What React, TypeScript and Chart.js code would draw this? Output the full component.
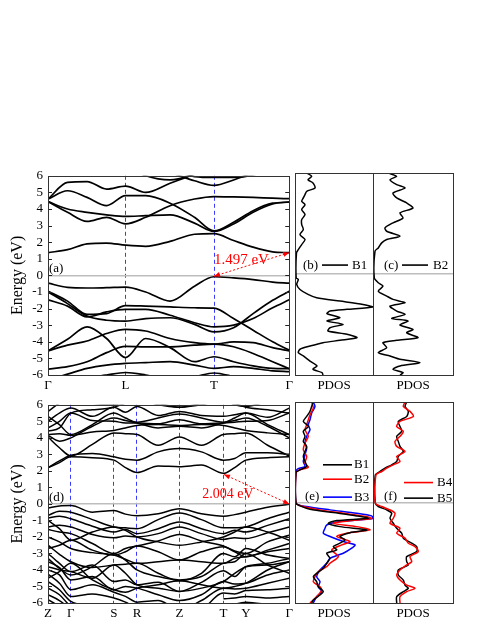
import React, { useEffect, useRef } from 'react';
import { Chart, registerables } from 'chart.js';
Chart.register(...registerables);

const SERIF = '"Liberation Serif", "DejaVu Serif", serif';

// ---------- energy axis ----------
const energyTicks = [-6, -5, -4, -3, -2, -1, 0, 1, 2, 3, 4, 5, 6];

// ---------- panel (a): bands along Γ-L-T-Γ ----------
const kGridA = [0, 20, 40, 60, 79.4, 100, 125, 150, 170, 190, 210, 230, 247];
const hsPosA = [0, 79.4, 170, 247];
const hsLabA = ['Γ', 'L', 'T', 'Γ'];
const condA = [
  [1.37, 1.55, 1.9, 1.95, 1.82, 1.75, 2.05, 2.48, 2.52, 2.1, 1.7, 1.42, 1.37],
  [4.45, 3.8, 3.25, 3.5, 3.1, 3.5, 4.2, 4.6, 4.75, 4.73, 4.7, 4.65, 4.62],
  [4.45, 4.0, 3.8, 3.65, 3.55, 3.6, 3.65, 3.15, 2.65, 3.1, 3.8, 4.3, 4.42],
  [4.6, 5.1, 4.7, 4.2, 4.8, 4.8, 4.35, 3.5, 2.68, 3.2, 3.9, 4.35, 4.42],
  [4.6, 5.6, 5.65, 5.2, 5.38, 5.0, 5.55, 6.1, 6.6, null, null, null, null],
  [null, null, null, null, null, 6.6, 6.2, 5.7, 5.42, 5.75, 6.2, 6.6, null],
  [null, null, null, null, 6.6, 6.0, 5.75, 6.1, 6.6, null, null, null, null],
  [null, null, null, null, null, null, 6.4, 5.95, 5.9, 5.9, 6.05, 6.5, null],
];
const valA = [
  [-0.47, -0.72, -0.76, -0.74, -0.71, -1.0, -1.55, -0.65, -0.08, -0.15, -0.25, -0.4, -0.47],
  [-0.95, -1.55, -2.35, -2.3, -1.82, -1.85, -1.9, -1.95, -1.97, -2.6, -3.3, -4.0, -4.5],
  [-1.0, -1.7, -2.45, -2.7, -2.75, -2.6, -2.55, -2.95, -3.4, -3.15, -2.3, -1.5, -0.95],
  [-1.47, -1.85, -2.5, -2.2, -2.05, -2.05, -2.4, -2.85, -3.1, -3.0, -2.6, -1.95, -1.47],
  [-4.55, -3.85, -3.1, -3.8, -4.95, -3.8, -4.35, -5.2, -4.9, -5.2, -5.45, -5.6, -5.62],
  [-4.55, -4.2, -3.95, -3.5, -3.25, -3.35, -3.8, -4.05, -4.14, -4.0, -4.05, -4.35, -4.55],
  [-5.65, -5.5, -5.2, -4.65, -4.28, -4.3, -4.3, -4.2, -4.14, -4.3, -4.7, -5.2, -5.62],
  [-6.3, -5.95, -5.6, -5.4, -5.3, -5.25, -5.2, -5.4, -5.6, -5.5, -5.6, -5.75, -5.8],
  [null, -6.5, -6.2, -6.0, -5.85, -6.0, -6.3, -6.1, -5.88, -6.1, -6.4, null, null],
];

// ---------- panel (d): bands along Z-Γ-S-R-Z-T-Y-Γ ----------
const kGridD = [0, 11.7, 23.4, 45.4, 67.4, 79.2, 91, 112.7, 134.4, 156.9, 179.4, 190.9, 202.4, 224.6, 246.7];
const hsPosD = [0, 23.4, 67.4, 91, 134.4, 179.4, 202.4, 246.7];
const hsLabD = ['Z', 'Γ', 'S', 'R', 'Z', 'T', 'Y', 'Γ'];
const condD = [
  [2.2, 2.5, 2.85, 2.8, 2.65, 2.2, 1.9, 2.3, 2.25, 2.35, 1.85, 2.2, 2.65, 2.8, 2.85],
  [2.2, 2.6, 2.95, 3.05, 2.85, 2.7, 2.65, 3.15, 3.35, 3.15, 2.65, 2.75, 3.1, 3.1, 3.0],
  [4.05, 3.4, 2.9, 3.6, 4.3, 4.25, 4.2, 3.55, 4.05, 3.55, 4.2, 4.25, 4.3, 3.55, 2.9],
  [4.2, 4.25, 4.15, 4.35, 4.45, 4.6, 4.75, 4.8, 4.75, 4.8, 4.75, 4.6, 4.45, 4.3, 4.2],
  [4.6, 5.0, 5.5, 5.05, 5.0, 4.9, 4.9, 4.85, 5.1, 4.85, 4.9, 4.95, 5.0, 5.05, 5.5],
  [5.0, 5.5, 5.8, 5.3, 5.85, 5.55, 5.9, 5.35, 5.6, 5.35, 5.3, 5.4, 5.5, 5.25, 5.8],
  [5.6, 6.1, 6.4, 6.1, 6.0, 6.2, 6.4, 6.0, 5.85, 6.0, 6.3, 6.0, 5.9, 6.2, 6.4],
  [4.15, 3.8, 4.0, 4.7, 5.2, 5.05, 4.9, 4.6, 4.7, 4.6, 4.9, 5.05, 5.2, 4.7, 4.0],
  [4.4, 4.6, 5.5, 5.7, 5.85, 6.1, 6.3, 6.1, 5.85, 6.1, 6.3, 6.1, 5.85, 5.7, 5.5],
  [5.3, 4.8, 4.2, 4.8, 5.5, 5.2, 4.95, 5.2, 5.45, 5.2, 4.95, 5.2, 5.5, 4.8, 4.2],
];
const valD = [
  [-0.25, -0.12, -0.1, -0.5, -0.4, -0.62, -0.72, -0.6, -0.3, -0.6, -0.75, -0.65, -0.5, -0.2, -0.02],
  [-0.7, -0.45, -0.5, -0.95, -1.4, -1.45, -1.5, -0.95, -0.55, -0.95, -1.45, -1.45, -1.4, -0.9, -0.5],
  [-0.85, -0.75, -0.9, -1.35, -1.7, -1.55, -1.8, -1.5, -1.1, -1.5, -1.8, -1.6, -1.7, -1.3, -0.9],
  [-1.4, -1.3, -1.4, -1.85, -2.05, -1.95, -2.0, -1.8, -1.4, -1.8, -2.15, -2.05, -2.1, -1.75, -1.4],
  [-1.55, -1.7, -1.8, -2.4, -3.0, -2.7, -2.55, -2.25, -1.85, -2.25, -2.55, -2.85, -3.0, -2.3, -1.9],
  [-2.0, -2.3, -2.7, -2.95, -3.1, -3.35, -3.6, -3.5, -3.4, -3.5, -3.6, -3.3, -3.2, -2.9, -2.7],
  [-2.5, -3.05, -3.5, -3.85, -3.7, -3.65, -3.6, -4.2, -4.65, -4.2, -3.0, -3.2, -2.7, -3.1, -3.3],
  [-3.0, -3.6, -4.1, -3.7, -4.7, -4.6, -4.9, -4.75, -5.3, -4.75, -4.05, -4.4, -3.8, -3.7, -3.5],
  [-3.5, -3.85, -4.6, -4.4, -5.2, -5.0, -5.1, -5.5, -5.85, -5.5, -4.7, -4.85, -4.8, -4.3, -4.0],
  [-4.0, -4.3, -5.2, -4.9, -5.35, -5.6, -5.95, -5.85, -6.4, -5.85, -5.1, -5.15, -5.1, -4.8, -4.5],
  [-4.25, -4.8, -5.6, -5.45, -5.7, -5.95, -6.3, -6.5, null, -6.5, -5.4, -5.45, -5.25, -5.2, -5.1],
  [-4.7, -5.2, -5.9, -6.2, -6.5, null, null, null, null, null, -5.75, -5.7, -5.6, -5.7, -5.6],
  [-5.1, -5.5, -6.2, -6.5, null, null, null, null, null, null, -6.5, -6.1, -5.95, -6.1, -6.3],
  [-5.5, -5.85, -6.4, null, null, null, null, null, null, null, null, null, null, null, null],
  [-5.8, -6.2, null, null, null, null, null, null, null, null, null, null, null, null, null],
  [-3.8, -4.0, -4.1, -4.5, -3.7, -4.2, -4.9, -5.1, -5.3, -5.1, -4.7, -4.2, -3.8, -3.6, -3.3],
  [-1.0, -1.5, -2.2, -1.7, -1.4, -1.6, -2.0, -2.3, -2.5, -2.3, -2.0, -1.7, -1.4, -1.7, -2.2],
  [-2.7, -2.5, -2.2, -2.8, -3.1, -2.9, -2.55, -2.9, -3.4, -2.9, -2.6, -2.9, -3.2, -2.8, -2.4],
  [-3.3, -3.9, -4.3, -3.8, -3.0, -3.4, -4.0, -4.4, -4.6, -4.4, -3.6, -3.5, -3.0, -3.7, -4.2],
  [-4.5, -4.1, -3.6, -4.6, -5.2, -5.35, -5.1, -4.9, -4.65, -4.9, -5.1, -5.0, -4.8, -4.0, -3.5],
];

// ---------- PDOS (b) B1 ----------
const eB = [6.00, 5.80, 5.60, 5.41, 5.11, 4.91, 4.72, 4.52, 4.32, 4.12, 3.83, 3.53, 3.23, 2.94, 2.64, 2.34, 2.05, 1.75, 1.45, 1.26, -0.23, -0.32, -0.62, -0.92, -1.21, -1.41, -1.61, -1.81, -1.96, -2.10, -2.20, -2.36, -2.60, -2.79, -2.99, -3.19, -3.39, -3.58, -3.78, -3.94, -4.08, -4.28, -4.47, -4.67, -4.87, -5.17, -5.46, -5.66, -5.86, -6.00];
const dosB1 = [11.7, 16.7, 13, 18, 20, 11.7, 10, 8.3, 6.7, 10, 6.7, 10, 6.7, 6.7, 8.3, 5, 10, 6.7, 3.3, 1.5, 1.2, 3.3, 1.7, 5, 13, 21.7, 45, 68, 77.7, 52, 35, 32, 45, 32, 48, 35, 33, 52, 62, 45, 28, 15, 5, 3.3, 8.3, 15, 22, 18, 27, 28];

// ---------- PDOS (c) B2 ----------
const eC = [6.00, 5.80, 5.60, 5.31, 5.11, 4.81, 4.52, 4.22, 3.92, 3.63, 3.33, 3.04, 2.74, 2.54, 2.25, 2.05, 1.85, 1.55, 1.36, -0.23, -0.52, -0.72, -1.02, -1.31, -1.51, -1.71, -1.91, -2.20, -2.40, -2.64, -2.79, -3.03, -3.29, -3.49, -3.78, -3.94, -4.08, -4.38, -4.67, -4.87, -5.07, -5.27, -5.46, -5.66, -5.86, -6.00];
const dosB2 = [15.3, 23.7, 17, 23.7, 32, 20, 23.7, 33.7, 40, 27, 30, 20, 12, 13.7, 27, 13.7, 8.7, 5.3, 2, 1.3, 5.3, 10, 5.3, 13.7, 20, 32, 17, 23.7, 32, 18.7, 35, 27, 40, 33.7, 45, 23.7, 10, 13.7, 5.3, 17, 27, 47, 27, 20, 30, 27];

// ---------- PDOS (e) B1, B2, B3 ----------
const eE1 = [6.00, 5.74, 5.44, 5.14, 4.84, 4.54, 4.25, 3.95, 3.65, 3.35, 3.05, 2.75, 2.45, 2.15, 1.95, 1.79, -0.04, -0.20, -0.40, -0.60, -0.80, -0.94, -1.08, -1.24, -1.44, -1.64, -1.80, -2.03, -2.23, -2.43, -2.63, -2.83, -3.03, -3.33, -3.63, -3.93, -4.23, -4.43, -4.73, -5.03, -5.32, -5.52, -5.82, -6.00];
const dosE1 = [18.3, 16.7, 15, 11.7, 8.3, 13.3, 8.3, 10, 8.3, 11.7, 10, 8.3, 10, 11.7, 5, 1, 1, 5, 15, 38.3, 61.7, 73.3, 41.7, 33.3, 45, 71.7, 55, 45, 50, 45, 38.3, 41.7, 31.7, 35, 31.7, 28.3, 21.7, 18.3, 21.7, 23.3, 28.3, 25, 18.3, 16.7];
const eE2 = [6.00, 5.64, 5.24, 4.94, 4.64, 4.35, 3.95, 3.55, 3.15, 2.75, 2.35, 2.11, 1.91, 1.75, -0.04, -0.24, -0.44, -0.64, -0.84, -0.96, -1.10, -1.24, -1.44, -1.64, -1.83, -2.03, -2.33, -2.53, -2.83, -3.23, -3.63, -3.83, -4.13, -4.43, -4.73, -5.03, -5.22, -5.52, -5.82, -6.00];
const dosE2 = [16.7, 18.3, 15, 13.3, 11.7, 10, 13.3, 10, 8.3, 11.7, 10, 13.3, 3.3, 1, 1, 8.3, 25, 48.3, 71.7, 76.7, 53.3, 38.3, 61.7, 75, 51.7, 41.7, 55, 46.7, 36.7, 43.3, 35, 31.7, 23.3, 20, 18.3, 25, 26.7, 23.3, 18.3, 15];
const eE3 = [6.00, 5.74, 5.34, 4.94, 4.64, 4.35, 3.95, 3.55, 3.25, 2.85, 2.45, 2.15, 1.95, -0.04, -0.24, -0.44, -0.64, -0.80, -0.96, -1.14, -1.34, -1.54, -1.83, -2.03, -2.33, -2.53, -2.73, -3.03, -3.33, -3.63, -4.03, -4.43, -4.73, -5.03, -5.32, -5.62, -6.00];
const dosE3 = [18.3, 20, 16.7, 15, 13.3, 15, 11.7, 10, 11.7, 10, 8.3, 10, 1.7, 1, 11.7, 35, 61.7, 76.7, 77.7, 45, 31.7, 30, 28.3, 35, 48.3, 60, 56.7, 48.3, 35, 31.7, 25, 21.7, 25, 23.3, 26.7, 21.7, 18.3];

// ---------- PDOS (f) B4, B5 ----------
const eF = [6.00, 5.74, 5.44, 5.14, 4.84, 4.54, 4.25, 3.95, 3.65, 3.35, 3.05, 2.75, 2.45, 2.25, 2.05, 1.85, 1.65, -0.04, -0.24, -0.44, -0.64, -0.94, -1.24, -1.54, -1.83, -2.13, -2.43, -2.63, -2.93, -3.23, -3.53, -3.73, -4.03, -4.33, -4.63, -4.93, -5.12, -5.32, -5.62, -6.00];
const dosB4 = [32, 30.3, 37, 40.3, 27, 23.7, 30.3, 27, 22, 23.7, 32, 23.7, 27, 20.3, 13.7, 8.7, 3, 2.3, 8.7, 17, 22, 20.3, 17, 27, 23.7, 32, 35.3, 42, 45.3, 37, 38.7, 33.7, 27, 23.7, 27, 33.7, 42, 33.7, 27, 27];
const dosB5 = [33.7, 32, 35.3, 33.7, 25.3, 27, 28.7, 23.7, 25.3, 27, 30.3, 25.3, 23.7, 18.7, 12, 7, 2.3, 2.3, 5.3, 13.7, 18.7, 17, 20.3, 23.7, 28.7, 30.3, 38.7, 43.7, 43.7, 33.7, 33.7, 35.3, 25.3, 25.3, 30.3, 32, 35.3, 30.3, 23.7, 23.7];

// ---------- helpers ----------
type TextItem = { text: string; x: number; y: number; color?: string; size?: number; align?: CanvasTextAlign };
type SegItem = { x1: number; x2: number; y: number; color: string };
type ArrowItem = { x1: number; y1: number; x2: number; y2: number };
type Deco = { innerTicks?: boolean; texts: TextItem[]; segs: SegItem[]; arrows: ArrowItem[] };

function decoPlugin(deco: Deco) {
  return {
    id: 'deco',
    afterDatasetsDraw(chart: any) {
      const { ctx, chartArea: a, scales } = chart;
      const xs = scales.x, ys = scales.y;
      ctx.save();
      for (const s of deco.segs) {
        ctx.strokeStyle = s.color;
        ctx.lineWidth = 1.6;
        ctx.setLineDash([]);
        const py = ys.getPixelForValue(s.y);
        ctx.beginPath();
        ctx.moveTo(xs.getPixelForValue(s.x1), py);
        ctx.lineTo(xs.getPixelForValue(s.x2), py);
        ctx.stroke();
      }
      for (const ar of deco.arrows) {
        const x1 = xs.getPixelForValue(ar.x1), y1 = ys.getPixelForValue(ar.y1);
        const x2 = xs.getPixelForValue(ar.x2), y2 = ys.getPixelForValue(ar.y2);
        ctx.strokeStyle = '#ff0000';
        ctx.fillStyle = '#ff0000';
        ctx.lineWidth = 1;
        ctx.setLineDash([2, 2]);
        ctx.beginPath();
        ctx.moveTo(x1, y1);
        ctx.lineTo(x2, y2);
        ctx.stroke();
        ctx.setLineDash([]);
        const ang = Math.atan2(y2 - y1, x2 - x1);
        const head = (hx: number, hy: number, dir: number) => {
          const L = 6, W = 2.5;
          const bx = hx - Math.cos(dir) * L, by = hy - Math.sin(dir) * L;
          ctx.beginPath();
          ctx.moveTo(hx, hy);
          ctx.lineTo(bx + Math.sin(dir) * W, by - Math.cos(dir) * W);
          ctx.lineTo(bx - Math.sin(dir) * W, by + Math.cos(dir) * W);
          ctx.closePath();
          ctx.fill();
        };
        head(x2, y2, ang);
        head(x1, y1, ang + Math.PI);
      }
      for (const t of deco.texts) {
        ctx.fillStyle = t.color || '#000';
        ctx.font = `${t.size || 13}px ${SERIF}`;
        ctx.textAlign = t.align || 'left';
        ctx.textBaseline = 'middle';
        ctx.fillText(t.text, xs.getPixelForValue(t.x), ys.getPixelForValue(t.y));
      }
      if (deco.innerTicks) {
        ctx.strokeStyle = '#222';
        ctx.lineWidth = 1;
        for (const t of ys.ticks) {
          const py = Math.round(ys.getPixelForValue(t.value)) + 0.5;
          ctx.beginPath();
          ctx.moveTo(a.left, py); ctx.lineTo(a.left + 4, py);
          ctx.moveTo(a.right - 4, py); ctx.lineTo(a.right, py);
          ctx.stroke();
        }
      }
      ctx.strokeStyle = '#333';
      ctx.lineWidth = 1;
      ctx.strokeRect(Math.round(a.left) + 0.5, Math.round(a.top) + 0.5, Math.round(a.right) - Math.round(a.left), Math.round(a.bottom) - Math.round(a.top));
      ctx.restore();
    },
  };
}

const zeroGrid = (c: any) => (c.tick && c.tick.value === 0 ? '#bdbdbd' : 'rgba(0,0,0,0)');

function yScale(withLabels: boolean) {
  return {
    type: 'linear',
    min: -6,
    max: 6,
    afterBuildTicks: (s: any) => { s.ticks = energyTicks.map((v) => ({ value: v })); },
    ticks: withLabels
      ? { display: true, autoSkip: false, color: '#000', font: { family: SERIF, size: 13 }, padding: 5, callback: (v: any) => String(v) }
      : { display: false },
    grid: { drawTicks: false, color: zeroGrid, lineWidth: 1.5 },
    border: { display: false },
    title: withLabels
      ? { display: true, text: 'Energy (eV)', color: '#000', font: { family: SERIF, size: 16 }, padding: { top: 8, bottom: 0 } }
      : { display: false },
    afterFit: (s: any) => { s.width = withLabels ? 48 : 0; },
  };
}

function bandConfig(grid: number[], bands: (number | null)[][], hsPos: number[], hsLab: string[], width: number, deco: Deco) {
  const datasets = bands.map((b) => ({
    data: grid.map((k, i) => ({ x: k, y: b[i] })),
    borderColor: '#000',
    borderWidth: width,
    pointRadius: 0,
    cubicInterpolationMode: 'monotone',
    fill: false,
    spanGaps: false,
  }));
  return {
    type: 'line',
    data: { datasets },
    options: {
      animation: false,
      responsive: false,
      layout: { padding: { top: 10, right: 1, left: 0, bottom: 0 } },
      plugins: { legend: { display: false }, tooltip: { enabled: false } },
      scales: {
        x: {
          type: 'linear',
          min: hsPos[0],
          max: hsPos[hsPos.length - 1],
          afterBuildTicks: (s: any) => { s.ticks = hsPos.map((v) => ({ value: v })); },
          ticks: { color: '#000', font: { family: SERIF, size: 13 }, padding: 3, autoSkip: false, maxRotation: 0, callback: (_v: any, i: number) => hsLab[i] },
          grid: { drawTicks: false, lineWidth: 1, color: (c: any) => (c.index > 0 && c.index < hsPos.length - 1 ? '#3a3aff' : 'rgba(0,0,0,0)') },
          border: { display: false, dash: [4, 3] },
          afterFit: (s: any) => { s.height = 18; },
        },
        y: yScale(true),
      },
    },
    plugins: [decoPlugin(deco)],
  };
}

function dosConfig(curves: { e: number[]; d: number[]; color: string }[], xmax: number, deco: Deco) {
  const datasets = curves.map((c) => ({
    data: c.e.map((e, i) => ({ x: c.d[i], y: e })),
    borderColor: c.color,
    borderWidth: 1.5,
    pointRadius: 0,
    tension: 0.25,
    fill: false,
  }));
  return {
    type: 'line',
    data: { datasets },
    options: {
      animation: false,
      responsive: false,
      layout: { padding: { top: 10, right: 1, left: 1, bottom: 0 } },
      plugins: { legend: { display: false }, tooltip: { enabled: false } },
      scales: {
        x: {
          type: 'linear',
          min: 0,
          max: xmax,
          ticks: { display: false },
          grid: { display: false },
          border: { display: false },
          title: { display: true, text: 'PDOS', color: '#000', font: { family: SERIF, size: 13 }, padding: 0 },
          afterFit: (s: any) => { s.height = 18; },
        },
        y: yScale(false),
      },
    },
    plugins: [decoPlugin(deco)],
  };
}

const panels = [
  { left: 0, top: 163, w: 296, h: 230 },
  { left: 294, top: 163, w: 80, h: 230 },
  { left: 372, top: 163, w: 82, h: 230 },
  { left: 0, top: 392, w: 296, h: 229 },
  { left: 294, top: 392, w: 80, h: 229 },
  { left: 372, top: 392, w: 82, h: 229 },
];

export default function App() {
  const refs = useRef<(HTMLCanvasElement | null)[]>([]);
  useEffect(() => {
    const configs: any[] = [
      bandConfig(kGridA, [...condA, ...valA], hsPosA, hsLabA, 1.7, {
        innerTicks: true,
        texts: [
          { text: '(a)', x: 1, y: 0.41 },
          { text: '1.497 eV', x: 198, y: 0.9, color: '#ff0000', size: 15, align: 'center' },
        ],
        segs: [],
        arrows: [{ x1: 170, y1: -0.05, x2: 247, y2: 1.37 }],
      }),
      dosConfig([{ e: eB, d: dosB1, color: '#000' }], 78, {
        texts: [{ text: '(b)', x: 8, y: 0.53 }, { text: 'B1', x: 57, y: 0.53 }],
        segs: [{ x1: 27, x2: 53, y: 0.53, color: '#000' }],
        arrows: [],
      }),
      dosConfig([{ e: eC, d: dosB2, color: '#000' }], 80, {
        texts: [{ text: '(c)', x: 11, y: 0.53 }, { text: 'B2', x: 60, y: 0.53 }],
        segs: [{ x1: 29, x2: 55, y: 0.53, color: '#000' }],
        arrows: [],
      }),
      bandConfig(kGridD, [...condD, ...valD], hsPosD, hsLabD, 1.5, {
        innerTicks: true,
        texts: [
          { text: '(d)', x: 1, y: 0.4 },
          { text: '2.004 eV', x: 184, y: 0.58, color: '#ff0000', size: 14, align: 'center' },
        ],
        segs: [],
        arrows: [{ x1: 180, y1: 1.78, x2: 246.7, y2: 0.0 }],
      }),
      dosConfig([
        { e: eE1, d: dosE1, color: '#000' },
        { e: eE2, d: dosE2, color: '#ff0000' },
        { e: eE3, d: dosE3, color: '#0000ff' },
      ], 78, {
        texts: [
          { text: '(e)', x: 10, y: 0.34 },
          { text: 'B1', x: 59, y: 2.25 },
          { text: 'B2', x: 59, y: 1.39 },
          { text: 'B3', x: 59, y: 0.32 },
        ],
        segs: [
          { x1: 28, x2: 57, y: 2.25, color: '#000' },
          { x1: 28, x2: 57, y: 1.39, color: '#ff0000' },
          { x1: 28, x2: 57, y: 0.32, color: '#0000ff' },
        ],
        arrows: [],
      }),
      dosConfig([
        { e: eF, d: dosB4, color: '#ff0000' },
        { e: eF, d: dosB5, color: '#000' },
      ], 80, {
        texts: [
          { text: '(f)', x: 11, y: 0.34 },
          { text: 'B4', x: 64, y: 1.19 },
          { text: 'B5', x: 64, y: 0.26 },
        ],
        segs: [
          { x1: 31, x2: 60, y: 1.19, color: '#ff0000' },
          { x1: 31, x2: 60, y: 0.26, color: '#000' },
        ],
        arrows: [],
      }),
    ];
    const charts = configs.map((cfg, i) => new Chart(refs.current[i] as HTMLCanvasElement, cfg));
    return () => charts.forEach((c) => c.destroy());
  }, []);

  return (
    <div style={{ position: 'absolute', left: 0, top: 0, width: 485, height: 627, background: '#fff' }}>
      {panels.map((p, i) => (
        <canvas
          key={i}
          ref={(el) => { refs.current[i] = el; }}
          width={p.w}
          height={p.h}
          style={{ position: 'absolute', left: p.left, top: p.top, width: p.w, height: p.h }}
        />
      ))}
    </div>
  );
}
